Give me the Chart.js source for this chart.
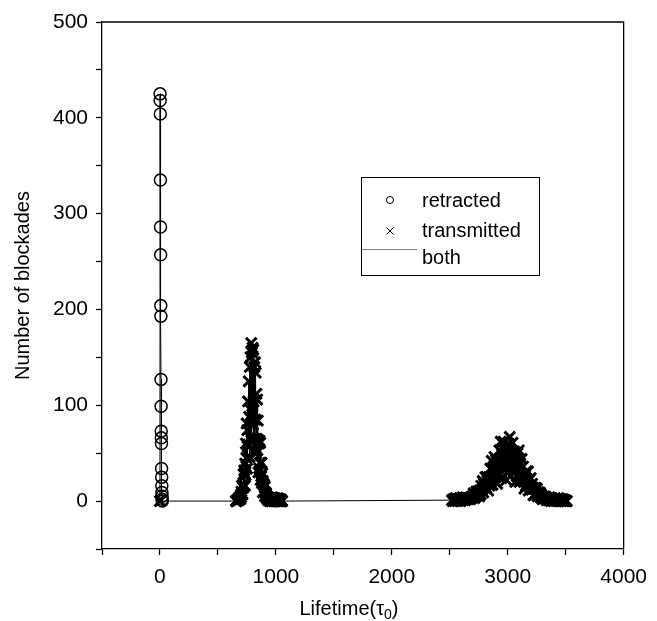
<!DOCTYPE html>
<html>
<head>
<meta charset="utf-8">
<script src="https://cdn.jsdelivr.net/npm/chart.js@4.4.0/dist/chart.umd.min.js"></script>
<style>
  html, body { margin: 0; padding: 0; background: #fff; }
  #wrap { width: 657px; height: 621px; }
</style>
</head>
<body>
<div id="wrap"><canvas id="lifeChart" width="657" height="621"></canvas></div>
<script>
// retracted blockades: short lifetimes right at zero
const retractedLifetime = [1, 2, 3, 4, 5, 6, 7, 8, 9, 10, 11, 12, 13, 14, 15, 16, 17, 18, 19, 20];
const retractedCounts = [425, 418, 404, 335, 286, 257, 204, 193, 127, 99, 73, 66, 60, 34, 25, 16, 9, 5, 2, 0];

// transmitted blockades: two noisy peaks, histogram bins
const transmittedZero = [0];
const peak1Start = 655, peak1Bin = 3;
const peak1Counts = [
  0, 0, 0, 1, 1, 1, 1, 2, 1, 3, 2, 4, 4,
  2, 6, 4, 10, 8, 16, 7, 17, 14, 28, 17, 32, 29,
  16, 39, 27, 60, 45, 81, 34, 74, 57, 104, 59, 125, 88,
  46, 140, 66, 150, 95, 165, 63, 155, 90, 160, 80, 158, 104,
  51, 140, 65, 145, 85, 134, 50, 112, 65, 106, 53, 84, 63,
  30, 60, 34, 63, 40, 61, 22, 40, 26, 40, 19, 29, 21,
  9, 18, 10, 17, 10, 15, 5, 9, 6, 8, 4, 5, 4,
  2, 3, 1, 4, 2, 1, 3, 0, 2, 3, 1, 2, 0, 4, 1, 2, 3, 0, 1, 2,
  0, 3, 1, 0, 2, 1, 2, 0, 1, 3, 0, 1, 0, 2, 1, 0, 1, 0, 2, 0, 1, 0, 0];
const peak2Start = 2520, peak2Bin = 6;
const peak2Counts = [
  1, 0, 2, 1, 0, 3, 1, 2, 0, 2, 1, 3, 0, 1, 2, 4, 1, 3, 2, 1, 4, 2, 3, 2,
  3, 3, 2, 4, 3, 5, 4, 8, 3, 7, 5, 10, 6, 10, 9, 5,
  11, 7, 16, 12, 21, 9, 18, 14, 25, 14, 25, 21, 11,
  25, 16, 34, 24, 42, 17, 35, 26, 46, 25, 43, 36, 18,
  41, 26, 53, 37, 62, 24, 49, 36, 62, 33, 55, 45, 22,
  49, 30, 60, 41, 67, 26, 51, 36, 61, 32, 52, 41, 20,
  43, 26, 50, 34, 53, 20, 39, 27, 44, 23, 36, 28, 13,
  27, 16, 31, 20, 31, 11, 22, 15, 24, 12, 18, 14, 6,
  13, 7, 14, 9, 13, 5, 9, 6, 9, 4, 7, 5, 2,
  4, 3, 5, 3, 4, 1,
  3, 2, 1, 4, 2, 0, 3, 1, 2, 0, 2, 3, 1, 0, 2, 1, 3, 0, 1, 2, 0, 1, 2, 0, 1, 0, 1, 0, 0];

const xTicks = [0, 1000, 2000, 3000, 4000];
const yTicks = [0, 100, 200, 300, 400, 500];

const FONT = '"Liberation Sans", Arial, Helvetica, sans-serif';

const retracted = retractedLifetime.map((x, i) => ({ x: x, y: retractedCounts[i] }));
const transmitted = transmittedZero.map(x => ({ x: x, y: 0 }))
  .concat(peak1Counts.map((c, i) => ({ x: peak1Start + i * peak1Bin, y: c })))
  .concat(peak2Counts.map((c, i) => ({ x: peak2Start + i * peak2Bin, y: c })));
const both = retracted.concat(transmitted).slice().sort((a, b) => a.x - b.x);

const frameAndLegend = {
  id: 'frameAndLegend',
  afterDraw(chart) {
    const ctx = chart.ctx;
    const a = chart.chartArea;
    ctx.save();
    // box around the plot
    ctx.strokeStyle = '#000';
    ctx.lineWidth = 1.3;
    ctx.beginPath();
    ctx.moveTo(a.left, a.top);
    ctx.lineTo(a.right, a.top);
    ctx.lineTo(a.right, a.bottom);
    ctx.stroke();

    // legend
    ctx.lineWidth = 1;
    ctx.strokeRect(361.5, 177.5, 178, 98);
    ctx.fillStyle = 'rgba(0,0,0,0)';
    Chart.helpers.drawPoint(ctx, { pointStyle: 'circle', radius: 3.5, borderWidth: 1 }, 390, 200);
    Chart.helpers.drawPoint(ctx, { pointStyle: 'crossRot', radius: 5, borderWidth: 1 }, 390, 231);
    ctx.strokeStyle = '#808080';
    ctx.beginPath();
    ctx.moveTo(362, 249.5);
    ctx.lineTo(417, 249.5);
    ctx.stroke();
    ctx.fillStyle = '#000';
    ctx.font = '20px ' + FONT;
    ctx.textBaseline = 'alphabetic';
    ctx.textAlign = 'left';
    ctx.fillText('retracted', 422, 206.5);
    ctx.fillText('transmitted', 422, 236.5);
    ctx.fillText('both', 422, 264);

    // x title with subscript
    const main = 'Lifetime(\u03c4';
    ctx.font = '20px ' + FONT;
    const w1 = ctx.measureText(main).width;
    ctx.font = '14px ' + FONT;
    const w2 = ctx.measureText('0').width;
    ctx.font = '20px ' + FONT;
    const w3 = ctx.measureText(')').width;
    const x0 = 349 - (w1 + w2 + w3) / 2;
    ctx.fillText(main, x0, 615);
    ctx.font = '14px ' + FONT;
    ctx.fillText('0', x0 + w1, 619);
    ctx.font = '20px ' + FONT;
    ctx.fillText(')', x0 + w1 + w2, 615);
    ctx.restore();
  }
};

new Chart(document.getElementById('lifeChart').getContext('2d'), {
  type: 'scatter',
  data: {
    datasets: [
      {
        label: 'retracted',
        data: retracted,
        pointStyle: 'circle',
        pointRadius: 6,
        borderColor: '#000',
        backgroundColor: 'rgba(0,0,0,0)',
        borderWidth: 1.5,
        order: 1
      },
      {
        label: 'transmitted',
        data: transmitted,
        pointStyle: 'crossRot',
        pointRadius: 7.5,
        borderColor: '#000',
        backgroundColor: '#000',
        borderWidth: 3,
        order: 2
      },
      {
        label: 'both',
        type: 'line',
        data: both,
        borderColor: '#000',
        borderWidth: 1,
        pointRadius: 0,
        tension: 0,
        fill: false,
        order: 3
      }
    ]
  },
  options: {
    responsive: false,
    animation: false,
    events: [],
    layout: { padding: { top: 22, right: 29, left: 0, bottom: 0 } },
    plugins: { legend: { display: false }, tooltip: { enabled: false } },
    scales: {
      x: {
        type: 'linear',
        min: -500,
        max: 4000,
        afterFit(scale) { scale.height = 72; },
        ticks: {
          stepSize: 500,
          autoSkip: false,
          maxRotation: 0,
          padding: 10,
          color: '#000',
          font: { family: FONT, size: 21 },
          callback: v => xTicks.includes(v) ? String(v) : ''
        },
        grid: { drawOnChartArea: false, drawTicks: true, tickLength: 6, tickColor: '#000', tickWidth: 1.3 },
        border: { color: '#000', width: 1.3 }
      },
      y: {
        type: 'linear',
        min: -50,
        max: 500,
        afterFit(scale) { scale.width = 102; },
        title: {
          display: true,
          text: 'Number of blockades',
          color: '#000',
          font: { family: FONT, size: 20 },
          padding: { top: 11, bottom: 0 }
        },
        ticks: {
          stepSize: 50,
          autoSkip: false,
          padding: 8,
          color: '#000',
          font: { family: FONT, size: 21 },
          callback: v => yTicks.includes(v) ? String(v) : ''
        },
        grid: { drawOnChartArea: false, drawTicks: true, tickLength: 6, tickColor: '#000', tickWidth: 1.3 },
        border: { color: '#000', width: 1.3 }
      }
    }
  },
  plugins: [frameAndLegend]
});
</script>
</body>
</html>
